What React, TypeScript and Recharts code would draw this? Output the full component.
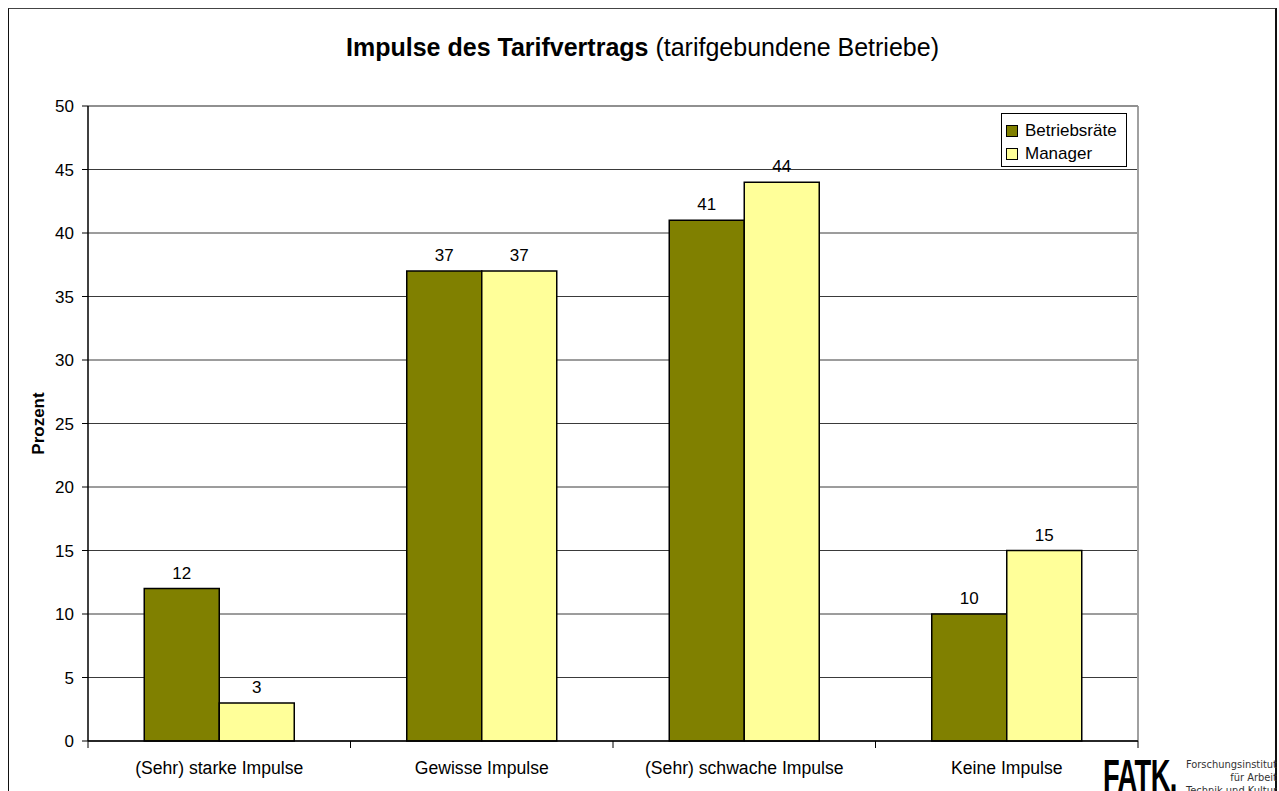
import React from 'react';
import { BarChart, Bar, XAxis, YAxis, CartesianGrid, LabelList, ReferenceLine } from 'recharts';

const categories = ['(Sehr) starke Impulse', 'Gewisse Impulse', '(Sehr) schwache Impulse', 'Keine Impulse'];
const betriebsraete = [12, 37, 41, 10];
const manager = [3, 37, 44, 15];
const yTicks = [0, 5, 10, 15, 20, 25, 30, 35, 40, 45, 50];
const seriesNames = ['Betriebsräte', 'Manager'];
const seriesColors = ['#808000', '#FFFF99'];

const data = categories.map((c, i) => ({ cat: c, br: betriebsraete[i], mg: manager[i] }));

const FONT = '"Liberation Sans", Arial, Helvetica, sans-serif';
const W = 1269;
const H = 783;
const MARGIN = { top: 98, right: 139, bottom: 20, left: 20 };
const Y_W = 60;
const X_H = 30;
const PLOT_W = W - MARGIN.left - Y_W - MARGIN.right;
const HALF_BAND = PLOT_W / categories.length / 2;

const XTick = (props: any) => {
  const { x, y, payload, index } = props;
  const last = index === categories.length - 1;
  return (
    <g>
      <line x1={x - HALF_BAND} y1={y - 21} x2={x - HALF_BAND} y2={y - 14} stroke="#000" strokeWidth={1} />
      {last && <line x1={x + HALF_BAND} y1={y - 21} x2={x + HALF_BAND} y2={y - 14} stroke="#000" strokeWidth={1} />}
      <text x={x} y={y} dy="0.71em" textAnchor="middle" fontSize={17.6} fontFamily={FONT} fill="#000">
        {payload.value}
      </text>
    </g>
  );
};

const LegendBox = () => (
  <div
    style={{
      position: 'absolute',
      left: 993,
      top: 105,
      border: '1px solid #000',
      boxSizing: 'border-box',
      width: 126,
      height: 54,
      background: '#fff',
      paddingTop: 5,
      fontFamily: FONT,
      fontSize: 17,
      color: '#000',
    }}
  >
    {seriesNames.map((n, i) => (
      <div key={n} style={{ height: 23, display: 'flex', alignItems: 'center' }}>
        <span
          style={{
            display: 'inline-block',
            width: 10,
            height: 10,
            border: '1.5px solid #000',
            background: seriesColors[i],
            marginLeft: 4,
            marginRight: 7,
          }}
        />
        <span>{n}</span>
      </div>
    ))}
  </div>
);

export default function App() {
  return (
    <div style={{ position: 'fixed', left: 8, top: 8, width: W, height: 800, overflow: 'hidden', background: '#fff' }}>
      <div
        style={{
          position: 'absolute',
          left: -1,
          top: -1,
          width: 1270,
          height: 900,
          border: '2px solid #111',
          borderTopColor: '#444',
          boxSizing: 'border-box',
        }}
      />
      <div
        style={{
          position: 'absolute',
          left: 0,
          top: 24,
          width: W,
          textAlign: 'center',
          fontFamily: FONT,
          fontSize: 25,
          lineHeight: '30px',
          color: '#000',
        }}
      >
        <b>Impulse des Tarifvertrags</b> (tarifgebundene Betriebe)
      </div>
      <BarChart
        width={W}
        height={H}
        data={data}
        margin={MARGIN}
        barCategoryGap="21.43%"
        barGap={0}
        style={{ position: 'absolute', left: 0, top: 0 }}
      >
        <CartesianGrid vertical={false} stroke="#3a3a3a" strokeWidth={1} />
        <CartesianGrid
          horizontal={false}
          verticalCoordinatesGenerator={(p: any) => [p.offset.left + p.offset.width]}
          stroke="#a0a0a0"
          strokeWidth={2}
        />
        <ReferenceLine y={50} stroke="#8c8c8c" strokeWidth={1.5} />
        <XAxis
          dataKey="cat"
          height={X_H}
          tickLine={false}
          tickSize={0}
          tickMargin={21}
          axisLine={{ stroke: '#000', strokeWidth: 1.5 }}
          tick={<XTick />}
          interval={0}
        />
        <YAxis
          width={Y_W}
          domain={[0, 50]}
          ticks={yTicks}
          interval={0}
          tickSize={6}
          tickMargin={8}
          tickLine={{ stroke: '#000' }}
          axisLine={{ stroke: '#000', strokeWidth: 1.5 }}
          tick={{ fontSize: 17, fontFamily: FONT, fill: '#000' }}
          label={{
            content: (lp: any) => {
              const vb = lp.viewBox || { x: 20, y: 98, width: 60, height: 635 };
              const cx = vb.x + 10;
              const cy = vb.y + vb.height / 2;
              return (
                <text
                  x={cx}
                  y={cy}
                  transform={`rotate(-90 ${cx} ${cy})`}
                  textAnchor="middle"
                  dominantBaseline="central"
                  fontSize={17}
                  fontWeight="bold"
                  fontFamily={FONT}
                  fill="#000"
                >
                  Prozent
                </text>
              );
            },
          }}
        />
        <Bar dataKey="br" name={seriesNames[0]} fill={seriesColors[0]} stroke="#000" strokeWidth={1.5} isAnimationActive={false}>
          <LabelList dataKey="br" position="top" offset={10} fontSize={17} fontFamily={FONT} fill="#000" />
        </Bar>
        <Bar dataKey="mg" name={seriesNames[1]} fill={seriesColors[1]} stroke="#000" strokeWidth={1.5} isAnimationActive={false}>
          <LabelList dataKey="mg" position="top" offset={10} fontSize={17} fontFamily={FONT} fill="#000" />
        </Bar>
      </BarChart>
      <LegendBox />
      <div
        style={{
          position: 'absolute',
          left: 1095,
          top: 746,
          fontFamily: FONT,
          fontWeight: 'bold',
          fontSize: 44,
          lineHeight: '44px',
          color: '#000',
          transform: 'scaleX(0.62)',
          transformOrigin: 'left top',
          letterSpacing: -1,
          whiteSpace: 'nowrap',
        }}
      >
        FATK.
      </div>
      <div
        style={{
          position: 'absolute',
          right: 0,
          top: 750,
          width: 140,
          textAlign: 'right',
          fontFamily: '"DejaVu Sans Condensed", "DejaVu Sans", sans-serif',
          fontSize: 11,
          lineHeight: '13px',
          color: '#333',
          whiteSpace: 'nowrap',
        }}
      >
        Forschungsinstitut
        <br />
        für Arbeit
        <br />
        Technik und Kultur
      </div>
    </div>
  );
}
